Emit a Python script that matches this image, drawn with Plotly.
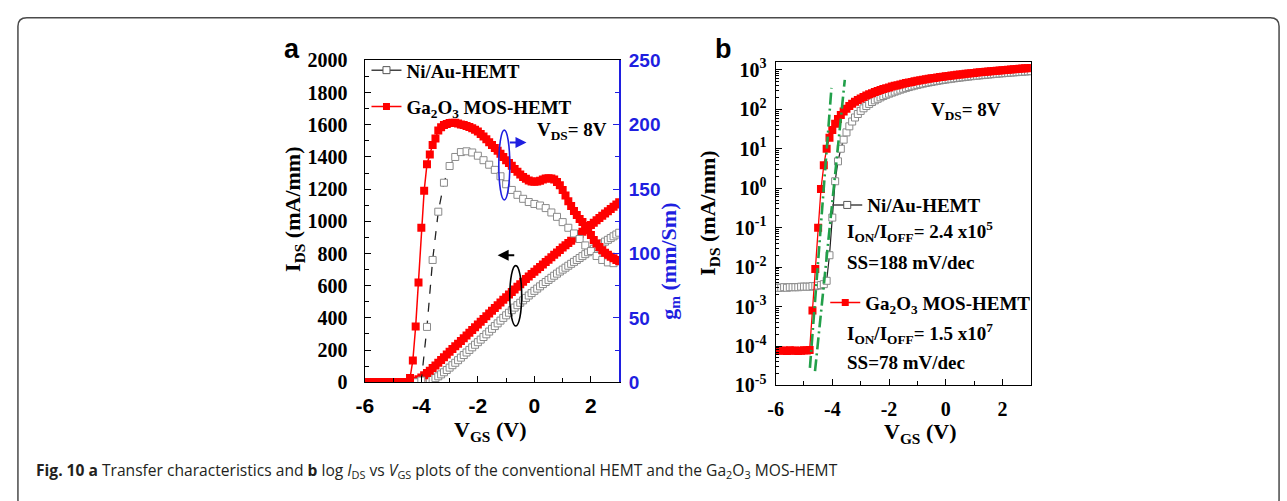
import plotly.graph_objects as go

# ---------------- data ----------------
vgs = [-6.0, -5.9, -5.8, -5.7, -5.6, -5.5, -5.4, -5.3, -5.2, -5.1,
       -5.0, -4.9, -4.8, -4.7, -4.6, -4.5, -4.4, -4.3, -4.2, -4.1,
       -4.0, -3.9, -3.8, -3.7, -3.6, -3.5, -3.4, -3.3, -3.2, -3.1,
       -3.0, -2.9, -2.8, -2.7, -2.6, -2.5, -2.4, -2.3, -2.2, -2.1,
       -2.0, -1.9, -1.8, -1.7, -1.6, -1.5, -1.4, -1.3, -1.2, -1.1,
       -1.0, -0.9, -0.8, -0.7, -0.6, -0.5, -0.4, -0.3, -0.2, -0.1,
       0.0, 0.1, 0.2, 0.3, 0.4, 0.5, 0.6, 0.7, 0.8, 0.9,
       1.0, 1.1, 1.2, 1.3, 1.4, 1.5, 1.6, 1.7, 1.8, 1.9,
       2.0, 2.1, 2.2, 2.3, 2.4, 2.5, 2.6, 2.7, 2.8, 2.9, 3.0]

# I_DS (mA/mm) of the Ni/Au-HEMT
ids_niau = [3.0e-3, 3.0e-3, 3.0e-3, 3.1e-3, 3.0e-3, 3.1e-3, 3.1e-3, 3.1e-3, 3.1e-3, 3.2e-3,
            3.2e-3, 3.2e-3, 3.2e-3, 3.3e-3, 3.3e-3, 3.4e-3, 3.5e-3, 3.7e-3, 4.5e-3, 0.02,
            0.18, 1.5, 4.8, 10, 17, 26, 37, 49, 62, 76,
            91, 106, 121, 137, 153, 169, 185, 201, 217, 233,
            249, 265, 281, 298, 315, 332, 349, 366, 383, 400,
            416, 432, 448, 464, 479, 494, 509, 524, 539, 554,
            568, 582, 596, 610, 623, 636, 649, 662, 675, 688,
            700, 712, 724, 736, 748, 760, 772, 784, 796, 808,
            819, 830, 841, 852, 863, 874, 885, 896, 907, 918, 929]

# I_DS (mA/mm) of the Ga2O3 MOS-HEMT
ids_ga = [7.5e-5, 7.8e-5, 7.6e-5, 7.7e-5, 7.5e-5, 7.8e-5, 7.6e-5, 7.7e-5, 7.5e-5, 7.6e-5,
          7.8e-5, 7.7e-5, 7.9e-5, 8.0e-4, 9.0e-3, 0.1, 0.95, 3.8, 10, 19,
          30, 43, 57, 72, 88, 104, 121, 138, 155, 172,
          189, 206, 223, 240, 257, 274, 291, 308, 325, 342,
          359, 376, 393, 410, 427, 444, 461, 478, 495, 512,
          529, 545, 561, 577, 593, 609, 625, 641, 657, 672,
          687, 702, 717, 732, 747, 762, 777, 792, 807, 822,
          837, 852, 866, 880, 894, 908, 922, 936, 950, 964,
          978, 992, 1006, 1020, 1034, 1048, 1062, 1076, 1090, 1104, 1118]

# g_m (right axis) of the Ga2O3 MOS-HEMT, same V_GS grid
gm_ga = [0, 0, 0, 0, 0, 0, 0, 0, 0, 0,
         0, 0, 0, 0, 0, 0, 3.3, 16.9, 43.4, 77.5,
         120.0, 148.8, 169.4, 177.0, 184.4, 189.4, 195.6, 198.1, 199.8, 200.6,
         201.3, 201.5, 201.5, 201.0, 200.3, 199.8, 199.0, 198.2, 197.3, 196.2,
         194.8, 192.9, 191.0, 188.8, 186.5, 184.3, 182.0, 179.8, 177.5, 175.0,
         172.5, 170.3, 168.1, 165.6, 163.5, 161.3, 159.5, 158.0, 156.8, 156.0,
         155.8, 155.9, 156.5, 157.5, 158.3, 158.5, 158.3, 157.5, 155.6, 153.1,
         149.4, 145.0, 140.6, 136.9, 133.1, 130.0, 126.9, 124.4, 121.3, 118.1,
         114.4, 110.6, 107.8, 105.0, 102.5, 100.6, 99.0, 97.5, 96.3, 95.0, 94.0]

# g_m of the Ni/Au-HEMT (sampled every 0.2 V)
vgs_gm_niau = [-6.0, -5.8, -5.6, -5.4, -5.2, -5.0, -4.8, -4.6, -4.4, -4.2,
               -4.0, -3.8, -3.6, -3.4, -3.2, -3.0, -2.8, -2.6, -2.4, -2.2,
               -2.0, -1.8, -1.6, -1.4, -1.2, -1.0, -0.8, -0.6, -0.4, -0.2,
               0.0, 0.2, 0.4, 0.6, 0.8, 1.0, 1.2, 1.4, 1.6, 1.8,
               2.0, 2.2, 2.4, 2.6, 2.8, 3.0]
gm_niau = [0, 0, 0, 0, 0, 0, 0, 0, 0, 0,
           1.3, 43.0, 95.0, 132.5, 155.0, 168.0, 175.0, 178.8, 179.4, 178.5,
           176.0, 172.5, 169.0, 165.0, 160.0, 153.8, 149.4, 145.6, 142.5, 140.0,
           138.5, 137.3, 135.3, 131.9, 128.5, 124.4, 120.0, 115.6, 111.3, 106.3,
           101.9, 98.1, 95.0, 93.1, 92.5, 94.4]

# subthreshold-slope guide lines in panel b (end points)
fit_ga_v = [-4.79, -4.03]
fit_ga_i = [2.8e-5, 350]
fit_niau_v = [-4.61, -3.56]
fit_niau_i = [2.3e-5, 560]

x_ticks = [-6, -4, -2, 0, 2]
x_ticktext = ["-6", "-4", "-2", "0", "2"]
x_minor = [-5, -3, -1, 1, 3]
ids_ticks = [0, 200, 400, 600, 800, 1000, 1200, 1400, 1600, 1800, 2000]
gm_ticks = [0, 50, 100, 150, 200, 250]
log_tickvals = [1e-5, 1e-4, 1e-3, 1e-2, 1e-1, 1e0, 1e1, 1e2, 1e3]
log_ticktext = ["10<sup>-5</sup>", "10<sup>-4</sup>", "10<sup>-3</sup>", "10<sup>-2</sup>",
                "10<sup>-1</sup>", "10<sup>0</sup>", "10<sup>1</sup>", "10<sup>2</sup>",
                "10<sup>3</sup>"]

# ---------------- style ----------------
W, H = 1287, 501


def px(x):
    return x / W


def py(y):
    return 1 - y / H


SERIF = "Liberation Serif, Times New Roman, serif"
SANS = "Liberation Sans, Arial, sans-serif"
RED = "#ff0000"
GRAY = "#8a8a8a"
DARK = "#222222"
BLUE = "#1f1fe0"
GREEN = "#22a04a"

fig = go.Figure()

# ---- panel a ----
fig.add_trace(go.Scatter(x=vgs, y=ids_niau, mode="markers", xaxis="x", yaxis="y",
                         marker=dict(symbol="square", size=7, color="white",
                                     line=dict(color=GRAY, width=1)),
                         showlegend=False))
fig.add_trace(go.Scatter(x=vgs_gm_niau, y=gm_niau, mode="lines+markers", xaxis="x", yaxis="y2",
                         line=dict(color=DARK, width=1.3, dash="dash"),
                         marker=dict(symbol="square", size=7, color="white",
                                     line=dict(color=GRAY, width=1)),
                         showlegend=False))
fig.add_trace(go.Scatter(x=vgs, y=ids_ga, mode="markers", xaxis="x", yaxis="y",
                         marker=dict(symbol="square", size=8, color=RED),
                         showlegend=False))
fig.add_trace(go.Scatter(x=vgs, y=gm_ga, mode="lines+markers", xaxis="x", yaxis="y2",
                         line=dict(color=RED, width=1.5),
                         marker=dict(symbol="square", size=8, color=RED),
                         showlegend=False))

# ---- panel b ----
fig.add_trace(go.Scatter(x=vgs, y=ids_niau, mode="lines+markers", xaxis="x2", yaxis="y3",
                         line=dict(color=DARK, width=1.2),
                         marker=dict(symbol="square", size=7, color="white",
                                     line=dict(color=GRAY, width=1)),
                         showlegend=False))
fig.add_trace(go.Scatter(x=vgs, y=ids_ga, mode="lines+markers", xaxis="x2", yaxis="y3",
                         line=dict(color=RED, width=1.3),
                         marker=dict(symbol="square", size=8, color=RED),
                         showlegend=False))
for fv, fi in ((fit_ga_v, fit_ga_i), (fit_niau_v, fit_niau_i)):
    fig.add_trace(go.Scatter(x=fv, y=fi, mode="lines", xaxis="x2", yaxis="y3",
                             line=dict(color=GREEN, width=2.6, dash="12px,4px,2px,4px"),
                             showlegend=False))

# ---- legend entries (style samples only) ----
leg_font = dict(family=SERIF, size=19, color="black")
entries = [
    ("legend", "<b>Ni/Au-HEMT</b>", "niau", "x", "y"),
    ("legend2", "<b>Ga<sub>2</sub>O<sub>3</sub> MOS-HEMT</b>", "ga", "x", "y"),
    ("legend3", "<b>Ni/Au-HEMT</b>", "niau", "x2", "y3"),
    ("legend4", "<b>Ga<sub>2</sub>O<sub>3</sub> MOS-HEMT</b>", "ga", "x2", "y3"),
]
for leg, name, kind, xa, ya in entries:
    if kind == "niau":
        ln = dict(color="#444444", width=1.5)
        mk = dict(symbol="square", size=7, color="white", line=dict(color="#555555", width=1))
    else:
        ln = dict(color=RED, width=1.5)
        mk = dict(symbol="square", size=7, color=RED)
    fig.add_trace(go.Scatter(x=[None], y=[None], mode="lines+markers", name=name,
                             line=ln, marker=mk, xaxis=xa, yaxis=ya,
                             legend=leg, showlegend=True))

leg_common = dict(font=leg_font, bgcolor="rgba(0,0,0,0)", borderwidth=0,
                  itemwidth=30, xanchor="left", yanchor="middle")

axis_common = dict(showgrid=False, zeroline=False, showline=True, linecolor="black",
                   linewidth=1.4, ticks="inside", tickcolor="black", tickwidth=1.3)

fig.update_layout(
    width=W, height=H, margin=dict(l=0, r=0, t=0, b=0),
    paper_bgcolor="white", plot_bgcolor="white",
    legend=dict(x=px(360), y=py(62), **leg_common),
    legend2=dict(x=px(360), y=py(100), **leg_common),
    legend3=dict(x=px(824), y=py(203), **leg_common),
    legend4=dict(x=px(822), y=py(305), **leg_common),
    xaxis=dict(domain=[px(358.3), px(614.5)], range=[-6, 3], anchor="y",
               tickvals=x_ticks, ticktext=x_ticktext, ticklen=6, mirror=True,
               minor=dict(tickvals=x_minor, ticks="inside", ticklen=4, tickcolor="black"),
               tickfont=dict(family=SANS, size=21, color="black", weight="bold"),
               ticklabelstandoff=4, **axis_common),
    yaxis=dict(domain=[py(388.3), py(51.7)], range=[0, 2000], anchor="x",
               tickvals=ids_ticks, ticklen=6,
               minor=dict(dtick=100, ticks="inside", ticklen=4, tickcolor="black"),
               tickfont=dict(family=SERIF, size=20, color="black", weight="bold"),
               ticklabelstandoff=12, **axis_common),
    yaxis2=dict(overlaying="y", side="right", anchor="x", range=[0, 250],
                tickvals=gm_ticks, ticklen=6, showgrid=False, zeroline=False,
                showline=True, linecolor=BLUE, linewidth=1.6, ticks="inside",
                tickcolor=BLUE, tickwidth=1.3,
                minor=dict(dtick=25, ticks="inside", ticklen=4, tickcolor=BLUE),
                tickfont=dict(family=SANS, size=19, color=BLUE, weight="bold"),
                ticklabelstandoff=4),
    xaxis2=dict(domain=[px(772), px(1029)], range=[-6, 3], anchor="y3",
                tickvals=x_ticks, ticktext=x_ticktext, ticklen=6, mirror=True,
                minor=dict(tickvals=x_minor, ticks="inside", ticklen=4, tickcolor="black"),
                tickfont=dict(family=SERIF, size=20, color="black", weight="bold"),
                ticklabelstandoff=5, **axis_common),
    yaxis3=dict(domain=[py(391.7), py(53.3)], type="log", range=[-5, 3.2], anchor="x2",
                tickvals=log_tickvals, ticktext=log_ticktext, ticklen=6, mirror=True,
                minor=dict(dtick="D1", ticks="inside", ticklen=3, tickcolor="black"),
                tickfont=dict(family=SERIF, size=20, color="black", weight="bold"),
                ticklabelstandoff=4, **axis_common),
)

# ---------------- text ----------------
def txt(x, y, s, size, family=SERIF, color="black", anchor="center", angle=0):
    fig.add_annotation(x=px(x), y=py(y), xref="paper", yref="paper", text=s,
                       showarrow=False, xanchor=anchor, yanchor="middle",
                       textangle=angle, font=dict(family=family, size=size, color=color))


txt(285, 40, "<b>a</b>", 27, family=SANS)
txt(720, 40, "<b>b</b>", 27, family=SANS)
txt(287, 207, "<b>I<sub>DS</sub> (mA/mm)</b>", 22, angle=-90)
txt(666, 262, "<b>g<sub>m</sub> (mm/Sm)</b>", 22, color=BLUE, angle=-90)
txt(484, 439, "<b>V<sub>GS</sub> (V)</b>", 22)
txt(705, 212, "<b>I<sub>DS</sub> (mA/mm)</b>", 22, angle=-90)
txt(917, 441, "<b>V<sub>GS</sub> (V)</b>", 22)
txt(604, 125, "<b>V<sub>DS</sub>= 8V</b>", 19, anchor="right")
txt(1001, 105, "<b>V<sub>DS</sub>= 8V</b>", 19, anchor="right")
txt(842, 231, "<b>I<sub>ON</sub>/I<sub>OFF</sub>= 2.4 x10<sup>5</sup></b>", 19, anchor="left")
txt(842, 263, "<b>SS=188 mV/dec</b>", 19, anchor="left")
txt(842, 337, "<b>I<sub>ON</sub>/I<sub>OFF</sub>= 1.5 x10<sup>7</sup></b>", 19, anchor="left")
txt(842, 368, "<b>SS=78 mV/dec</b>", 19, anchor="left")
txt(25, 481, "<b>Fig. 10 a</b> Transfer characteristics and <b>b</b> log <i>I</i><sub>DS</sub> vs "
             "<i>V</i><sub>GS</sub> plots of the conventional HEMT and the Ga<sub>2</sub>O<sub>3</sub> MOS-HEMT",
    15.6, family="Open Sans, Noto Sans, sans-serif", color="#231f20", anchor="left")

# ---------------- ellipses and arrows (panel a) ----------------
fig.add_shape(type="circle", xref="x", yref="y", x0=-1.26, x1=-0.87, y0=1133, y1=1567,
              line=dict(color=BLUE, width=1.6))
fig.add_shape(type="circle", xref="x", yref="y", x0=-0.87, x1=-0.45, y0=350, y1=725,
              line=dict(color="black", width=1.6))
fig.add_annotation(x=-0.28, y=1490, ax=-0.92, ay=1490, xref="x", yref="y", axref="x", ayref="y",
                   text="", showarrow=True, arrowhead=2, arrowsize=1.1, arrowwidth=2,
                   arrowcolor=BLUE)
fig.add_annotation(x=-1.30, y=790, ax=-0.66, ay=790, xref="x", yref="y", axref="x", ayref="y",
                   text="", showarrow=True, arrowhead=2, arrowsize=1.1, arrowwidth=2,
                   arrowcolor="black")

# ---------------- outer rounded frame ----------------
x0, x1, y0, y1, r = 9, 1279, 7, 520, 9
path = (f"M {px(x0 + r)} {py(y0)} L {px(x1 - r)} {py(y0)} "
        f"Q {px(x1)} {py(y0)} {px(x1)} {py(y0 + r)} L {px(x1)} {py(y1 - r)} "
        f"Q {px(x1)} {py(y1)} {px(x1 - r)} {py(y1)} L {px(x0 + r)} {py(y1)} "
        f"Q {px(x0)} {py(y1)} {px(x0)} {py(y1 - r)} L {px(x0)} {py(y0 + r)} "
        f"Q {px(x0)} {py(y0)} {px(x0 + r)} {py(y0)} Z")
fig.add_shape(type="path", xref="paper", yref="paper", path=path,
              line=dict(color="#4a4a4a", width=1.5), layer="below")

fig.write_html("out.html",
               post_script="document.body.style.margin='0px';document.body.style.overflow='hidden';")
